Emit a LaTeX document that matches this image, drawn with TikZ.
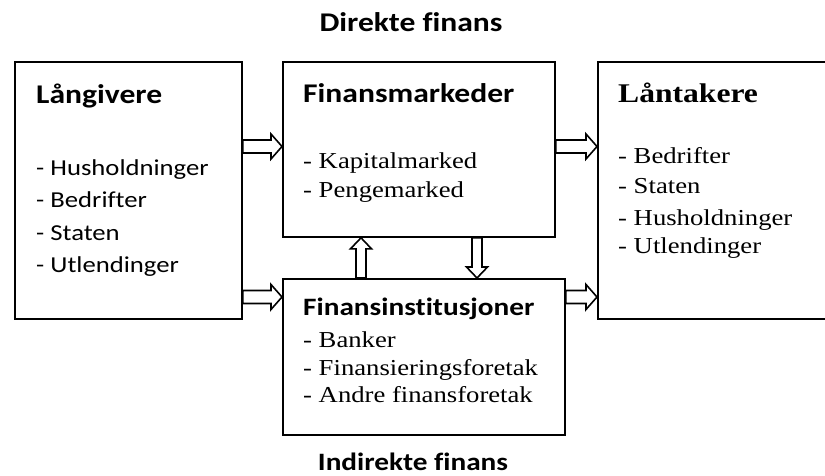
\documentclass[tikz,border=0pt]{standalone}
\usepackage{fontspec}
\usepackage{graphicx}
\newfontfamily\tmfont{Liberation Serif}[FakeStretch=1.17, Ligatures=NoCommon]
\newfontfamily\tmreg{Liberation Serif}[Ligatures=NoCommon]
\newfontfamily\calfont{Carlito}[FakeStretch=1.17, Ligatures=NoCommon]
\newcommand\stretchtxt[1]{\scalebox{1.17}[1]{#1}}
\usetikzlibrary{calc}
\newcommand\blk[4]{%
  \coordinate (bs) at #1; \coordinate (be) at #2;
  \coordinate (bh) at ($(be)!11pt!(bs)$);
  \draw[blkarrow] ($(bs)!#3!90:(be)$) -- ($(bh)!#3!-90:(bs)$) -- ($(bh)!#4!-90:(bs)$) -- (be)
    -- ($(bh)!#4!90:(bs)$) -- ($(bh)!#3!90:(bs)$) -- ($(bs)!#3!-90:(be)$) -- cycle;}
\begin{document}
\begin{tikzpicture}[x=1pt,y=-1pt,
  box/.style={draw, line width=1.8pt, inner sep=0pt, anchor=north west},
  blkarrow/.style={draw, fill=white, line width=1.6pt, line join=miter},
  txt/.style={anchor=base west, inner sep=0pt},
  calhd/.style={txt, font=\calfont\bfseries\fontsize{27}{30}\selectfont},
  callist/.style={txt, font=\calfont\fontsize{22.8}{26}\selectfont},
  tmlist/.style={txt, font=\tmreg\fontsize{22.8}{26}\selectfont},
  tmhd/.style={txt, font=\tmfont\bfseries\fontsize{27}{30}\selectfont},
  title/.style={anchor=base, inner sep=0pt, font=\calfont\bfseries\fontsize{27}{30}\selectfont}]
\clip (0,0) rectangle (825,475);
\fill[white] (0,0) rectangle (825,475);
% boxes
\node[box, minimum width=227pt, minimum height=257pt] (L) at (14,61) {};
\node[box, minimum width=272pt, minimum height=175pt] (FM) at (282,61) {};
\node[box, minimum width=282pt, minimum height=156pt] (FI) at (282,278) {};
\node[box, minimum width=260pt, minimum height=257pt] (R) at (597,61) {};
% titles
\node[title] (dir) at (411,31) {Direkte finans};
\node[title, font=\calfont\bfseries\fontsize{25}{28}\selectfont] (ind) at (413,470) {Indirekte finans};
% Långivere
\node[calhd] (Lh) at (36,103) {Långivere};
\node[callist] (L1) at (36,175) {- Husholdninger};
\node[callist] (L2) at (36,207.5) {- Bedrifter};
\node[callist] (L3) at (36,240) {- Staten};
\node[callist] (L4) at (36,272) {- Utlendinger};
% Finansmarkeder
\node[calhd] (FMh) at (303,102) {Finansmarkeder};
\node[tmlist] (FM1) at (303,168) {\stretchtxt{- Kapitalmarked}};
\node[tmlist] (FM2) at (303,197) {\stretchtxt{- Pengemarked}};
% Finansinstitusjoner
\node[calhd, font=\calfont\bfseries\fontsize{25}{28}\selectfont] (FIh) at (303,315) {Finansinstitusjoner};
\node[tmlist] (FI1) at (303,347) {\stretchtxt{- Banker}};
\node[tmlist] (FI2) at (303,375) {\stretchtxt{- Finansieringsforetak}};
\node[tmlist] (FI3) at (303,402) {\stretchtxt{- Andre finansforetak}};
% Låntakere
\node[tmhd] (Rh) at (618,102) {Låntakere};
\node[tmlist] (R1) at (618,163) {\stretchtxt{- Bedrifter}};
\node[tmlist] (R2) at (618,193) {\stretchtxt{- Staten}};
\node[tmlist] (R3) at (618,225) {\stretchtxt{- Husholdninger}};
\node[tmlist] (R4) at (618,253) {\stretchtxt{- Utlendinger}};
% arrow guides
\coordinate (ytop) at (0,146.5);
\coordinate (ybot) at (0,297);
\coordinate (xup) at (361,0);
\coordinate (xdn) at (477,0);
\blk{(L.east |- ytop)}{(FM.west |- ytop)}{6.5pt}{12.5pt}
\blk{(L.east |- ybot)}{(FI.west |- ybot)}{6.5pt}{12.5pt}
\blk{(FM.east |- ytop)}{(R.west |- ytop)}{6.5pt}{12.5pt}
\blk{(FI.east |- ybot)}{(R.west |- ybot)}{6.5pt}{12.5pt}
\blk{(FI.north -| xup)}{(FM.south -| xup)}{5pt}{10.5pt}
\blk{(FM.south -| xdn)}{(FI.north -| xdn)}{5pt}{10.5pt}
\end{tikzpicture}
\end{document}
